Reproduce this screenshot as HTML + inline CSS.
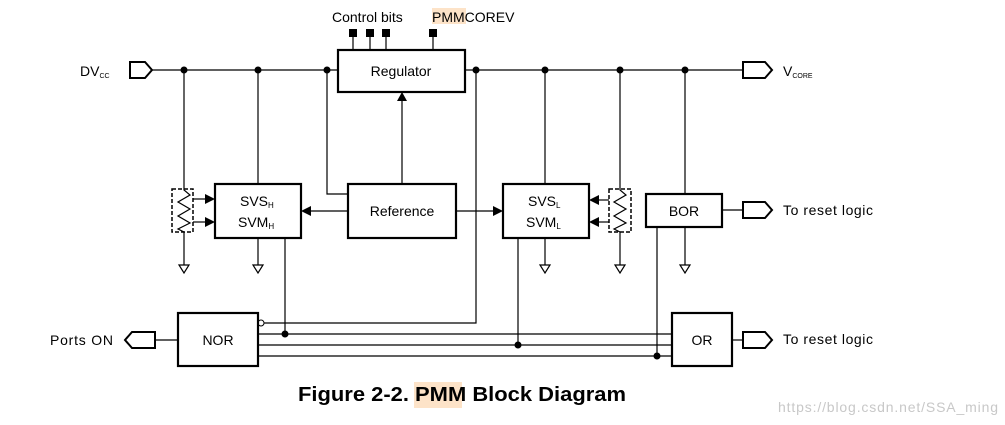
<!DOCTYPE html>
<html><head><meta charset="utf-8"><style>
html,body{margin:0;padding:0;background:#fff;}
svg{display:block;font-family:"Liberation Sans",Arial,sans-serif;}
</style></head><body>
<svg width="1005" height="425" viewBox="0 0 1005 425" xmlns="http://www.w3.org/2000/svg">
<g fill="none" stroke="#000" stroke-width="1.2">
<line x1="152" y1="70" x2="338" y2="70"/>
<line x1="465" y1="70" x2="743" y2="70"/>
<path d="M130,62 H145 L152,70 L145,78 H130 Z" stroke-width="2"/>
<path d="M743,62 H765 L772,70 L765,78 H743 Z" stroke-width="2"/>
<rect x="338" y="50" width="127" height="42" stroke-width="2.2"/>
<line x1="353" y1="34" x2="353" y2="50"/><line x1="370" y1="34" x2="370" y2="50"/><line x1="386" y1="34" x2="386" y2="50"/><line x1="433" y1="34" x2="433" y2="50"/>
<rect x="215" y="184" width="86" height="54" stroke-width="2.2"/>
<rect x="348" y="184" width="108" height="54" stroke-width="2.2"/>
<rect x="503" y="184" width="86" height="54" stroke-width="2.2"/>
<rect x="646" y="194" width="76" height="33" stroke-width="2.2"/>
<rect x="178" y="313" width="80" height="53" stroke-width="2.2"/>
<rect x="672" y="313" width="60" height="53" stroke-width="2.2"/>
<rect x="172" y="189" width="21" height="43" stroke-dasharray="4,2" stroke-width="1.5"/>
<rect x="609" y="189" width="22" height="43" stroke-dasharray="4,2" stroke-width="1.5"/>
<path d="M184,70 V190 L190,195 L178,202 L190,209 L178,216 L190,223 L178,229 L184,232 V265"/>
<path d="M620,70 V190 L626,195 L614,202 L626,209 L614,216 L626,223 L614,229 L620,232 V265"/>
<line x1="258" y1="70" x2="258" y2="184"/>
<line x1="258" y1="238" x2="258" y2="265"/>
<path d="M327,70 V194 H348"/>
<line x1="402" y1="184" x2="402" y2="100"/>
<line x1="545" y1="70" x2="545" y2="184"/>
<line x1="545" y1="238" x2="545" y2="265"/>
<line x1="685" y1="70" x2="685" y2="194"/>
<line x1="685" y1="227" x2="685" y2="265"/>
<line x1="193" y1="199" x2="206" y2="199"/><line x1="193" y1="222" x2="206" y2="222"/>
<line x1="609" y1="200" x2="598" y2="200"/><line x1="609" y1="222" x2="598" y2="222"/>
<line x1="348" y1="211" x2="310" y2="211"/>
<line x1="456" y1="211" x2="494" y2="211"/>
<path d="M179,265 H189 L184,273 Z"/><path d="M253,265 H263 L258,273 Z"/><path d="M540,265 H550 L545,273 Z"/><path d="M615,265 H625 L620,273 Z"/><path d="M680,265 H690 L685,273 Z"/>
<line x1="722" y1="210" x2="743" y2="210"/>
<path d="M743,202 H765 L772,210 L765,218 H743 Z" stroke-width="2"/>
<path d="M264,323 H476 V70"/>
<line x1="258" y1="334" x2="672" y2="334"/>
<line x1="258" y1="345" x2="672" y2="345"/>
<line x1="258" y1="356" x2="672" y2="356"/>
<line x1="285" y1="238" x2="285" y2="334"/>
<line x1="518" y1="238" x2="518" y2="345"/>
<line x1="657" y1="227" x2="657" y2="356"/>
<circle cx="261" cy="323" r="3" stroke-width="1"/>
<line x1="155" y1="340" x2="178" y2="340"/>
<path d="M155,332 H132 L125,340 L132,348 H155 Z" stroke-width="2"/>
<line x1="732" y1="340" x2="743" y2="340"/>
<path d="M743,332 H765 L772,340 L765,348 H743 Z" stroke-width="2"/>
</g>
<g fill="#000">
<rect x="349" y="29" width="8" height="8"/><rect x="366" y="29" width="8" height="8"/><rect x="382" y="29" width="8" height="8"/><rect x="429" y="29" width="8" height="8"/>
<circle cx="184" cy="70" r="3.5"/><circle cx="258" cy="70" r="3.5"/><circle cx="327" cy="70" r="3.5"/><circle cx="476" cy="70" r="3.5"/><circle cx="545" cy="70" r="3.5"/><circle cx="620" cy="70" r="3.5"/><circle cx="685" cy="70" r="3.5"/>
<circle cx="285" cy="334" r="3.5"/><circle cx="518" cy="345" r="3.5"/><circle cx="657" cy="356" r="3.5"/>
<path d="M402,92 L397,101 H407 Z"/>
<path d="M215,199 L205,194 V204 Z"/><path d="M215,222 L205,217 V227 Z"/>
<path d="M589,200 L599,195 V205 Z"/><path d="M589,222 L599,217 V227 Z"/>
<path d="M301,211 L311,206 V216 Z"/>
<path d="M503,211 L493,206 V216 Z"/>
</g>
<rect x="432" y="8" width="34" height="16" fill="#fde3c8"/>
<rect x="414" y="382" width="48" height="26" fill="#fde3c8"/>
<g font-size="14" fill="#000">
<text x="332" y="22">Control bits</text>
<text x="432" y="22">PMMCOREV</text>
<text x="80" y="76">DV<tspan font-size="7" dy="2">CC</tspan></text>
<text x="783" y="76">V<tspan font-size="7" dy="2">CORE</tspan></text>
<text x="401" y="76" text-anchor="middle">Regulator</text>
<text x="402" y="216" text-anchor="middle">Reference</text>
<text x="240" y="206">SVS<tspan font-size="8" dy="2">H</tspan></text>
<text x="238" y="227">SVM<tspan font-size="8" dy="2">H</tspan></text>
<text x="528" y="206">SVS<tspan font-size="8" dy="2">L</tspan></text>
<text x="526" y="227">SVM<tspan font-size="8" dy="2">L</tspan></text>
<text x="684" y="216" text-anchor="middle">BOR</text>
<text x="783" y="215" textLength="90">To reset logic</text>
<text x="218" y="345" text-anchor="middle">NOR</text>
<text x="702" y="345" text-anchor="middle">OR</text>
<text x="50" y="345" textLength="63">Ports ON</text>
<text x="783" y="344" textLength="90">To reset logic</text>
<text x="298" y="401" font-size="20" font-weight="bold" textLength="328" lengthAdjust="spacingAndGlyphs">Figure 2-2. PMM Block Diagram</text>
<text x="778" y="412" font-size="14" fill="#c8c8c8" textLength="220">https://blog.csdn.net/SSA_ming</text>
</g>
</svg>
</body></html>
